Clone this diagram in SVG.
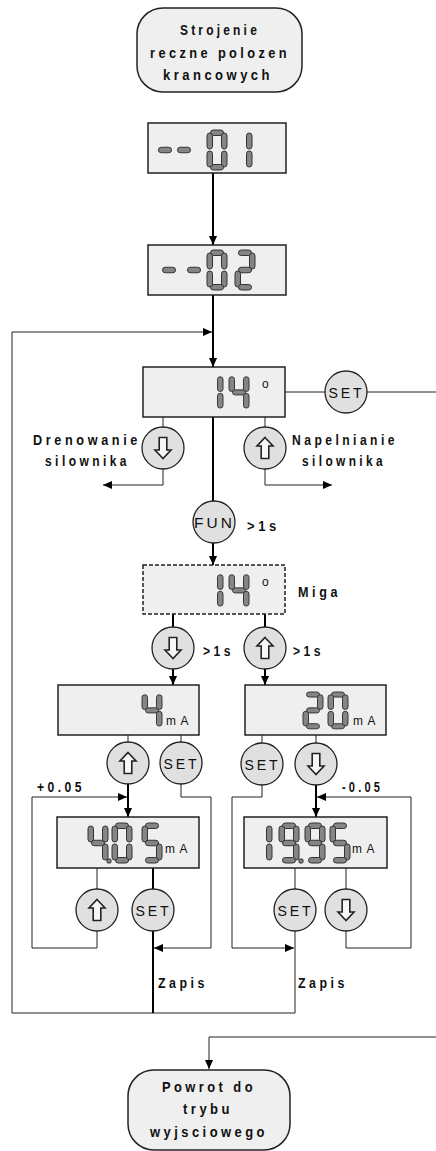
<svg xmlns="http://www.w3.org/2000/svg" xmlns:xlink="http://www.w3.org/1999/xlink" width="436" height="1151" viewBox="0 0 436 1151">
<style>
.box{fill:#efefef;stroke:#222;stroke-width:1.5}
.dash{stroke-dasharray:4 2}
.btn{fill:#e0e0e0;stroke:#222;stroke-width:1.3}
.arr{fill:#f6f6f6;stroke:#222;stroke-width:1.6}
.seg{fill:#858585;stroke:#333;stroke-width:1}
.thick{fill:none;stroke:#000;stroke-width:2}
.thin{fill:none;stroke:#222;stroke-width:1}
.lbl{font-family:"Liberation Sans",Arial,sans-serif;font-weight:bold;font-size:14px;letter-spacing:4px;fill:#111}
.ttl{font-family:"Liberation Sans",Arial,sans-serif;font-weight:bold;font-size:15px;letter-spacing:4px;fill:#111}
.bt{font-family:"Liberation Sans",Arial,sans-serif;font-size:15px;letter-spacing:3px;fill:#111}
.unit{font-family:"Liberation Sans",Arial,sans-serif;font-size:13px;letter-spacing:5px;fill:#111}
.deg{font-family:"Liberation Sans",Arial,sans-serif;font-size:12px;fill:#111}
</style>
<defs>
<marker id="ah" viewBox="0 0 10 10" refX="10" refY="5" markerWidth="9" markerHeight="9" markerUnits="userSpaceOnUse" orient="auto"><path d="M0,0.5 L10,5 L0,9.5 Z" fill="#000"/></marker>
<rect id="sA" x="3.5" y="0" width="13" height="5.5" rx="2.75"/>
<rect id="sB" x="14.5" y="3" width="5.5" height="16" rx="2.75"/>
<rect id="sC" x="14.5" y="21" width="5.5" height="16" rx="2.75"/>
<rect id="sD" x="3.5" y="34.5" width="13" height="5.5" rx="2.75"/>
<rect id="sE" x="0" y="21" width="5.5" height="16" rx="2.75"/>
<rect id="sF" x="0" y="3" width="5.5" height="16" rx="2.75"/>
<rect id="sG" x="3.5" y="17.25" width="13" height="5.5" rx="2.75"/>
<g id="d0"><use href="#sA"/><use href="#sB"/><use href="#sC"/><use href="#sD"/><use href="#sE"/><use href="#sF"/></g>
<g id="d1"><use href="#sB"/><use href="#sC"/></g>
<g id="d2"><use href="#sA"/><use href="#sB"/><use href="#sG"/><use href="#sE"/><use href="#sD"/></g>
<g id="d4"><use href="#sF"/><use href="#sG"/><use href="#sB"/><use href="#sC"/></g>
<g id="d5"><use href="#sA"/><use href="#sF"/><use href="#sG"/><use href="#sC"/><use href="#sD"/></g>
<g id="d9"><use href="#sA"/><use href="#sB"/><use href="#sC"/><use href="#sD"/><use href="#sF"/><use href="#sG"/></g>
<g id="dm"><use href="#sG"/></g>
<path id="up" d="M0,-10.5 L8,-2 L3.8,-2 L3.8,10.5 L-3.8,10.5 L-3.8,-2 L-8,-2 Z"/>
<g id="bup"><circle class="btn" r="21"/><use href="#up" class="arr"/></g>
<g id="bdn"><circle class="btn" r="21"/><use href="#up" class="arr" transform="rotate(180)"/></g>
<g id="bset"><circle class="btn" r="21"/><text class="bt" x="-17.5" y="5.5" textLength="36" lengthAdjust="spacingAndGlyphs">SET</text></g>
</defs>

<g id="connectors">
<path class="thick" d="M213,173 V245" marker-end="url(#ah)"/>
<path class="thick" d="M213,295 V367" marker-end="url(#ah)"/>
<path class="thin" d="M295,931 V1013 H12 V332 H212" marker-end="url(#ah)"/>
<path class="thin" d="M285,392 H325 M367,392 H436"/>
<path class="thin" d="M163,417 V427"/>
<path class="thin" d="M163,469 V485 H103" marker-end="url(#ah)"/>
<path class="thin" d="M265,417 V427"/>
<path class="thin" d="M265,469 V485 H332" marker-end="url(#ah)"/>
<path class="thick" d="M213,417 V501"/>
<path class="thick" d="M213,543 V565" marker-end="url(#ah)"/>
<path class="thick" d="M173,614 V627 M265,614 V627"/>
<path class="thick" d="M173,669 V685" marker-end="url(#ah)"/>
<path class="thick" d="M265,669 V685" marker-end="url(#ah)"/>
<path class="thin" d="M128,735 V742 M181,735 V742"/>
<path class="thick" d="M128,784 V817" marker-end="url(#ah)"/>
<path class="thin" d="M97,931 V948 H32 V797 H127" marker-end="url(#ah)"/>
<path class="thin" d="M181,784 V797 H211 V948 H154" marker-end="url(#ah)"/>
<path class="thin" d="M97,868 V889"/>
<path class="thick" d="M153,868 V889 M153,931 V1013"/>
<path class="thin" d="M262,735 V743 M316,735 V743"/>
<path class="thick" d="M316,785 V817" marker-end="url(#ah)"/>
<path class="thin" d="M346,931 V948 H411 V797 H317" marker-end="url(#ah)"/>
<path class="thin" d="M262,785 V797 H232 V948 H294" marker-end="url(#ah)"/>
<path class="thin" d="M295,868 V889 M346,868 V889"/>
<path class="thin" d="M436,1037 H209 V1069" marker-end="url(#ah)"/>
</g>

<g id="start">
<rect class="box" x="137" y="8" width="165" height="84" rx="26"/>
<text class="ttl" x="180" y="35" textLength="80" lengthAdjust="spacingAndGlyphs">Strojenie</text>
<text class="ttl" x="150" y="58" textLength="140" lengthAdjust="spacingAndGlyphs">reczne polozen</text>
<text class="ttl" x="163" y="80" textLength="110" lengthAdjust="spacingAndGlyphs">krancowych</text>
</g>

<g id="disp01">
<rect class="box" x="148" y="123" width="138" height="50"/>
<g class="seg">
<use href="#dm" x="155" y="130"/><use href="#dm" x="174" y="130"/><use href="#d0" x="207" y="130"/><use href="#d1" x="232" y="130"/>
</g>
</g>

<g id="disp02">
<rect class="box" x="148" y="245" width="138" height="50"/>
<g class="seg">
<use href="#dm" x="159" y="250"/><use href="#dm" x="184" y="250"/><use href="#d0" x="207" y="250"/><use href="#d2" x="235" y="250"/>
</g>
</g>

<g id="disp14">
<rect class="box" x="143" y="367" width="142" height="50"/>
<g class="seg">
<use href="#d1" transform="translate(203,374) scale(1,0.92)"/><use href="#d4" transform="translate(229,374) scale(1,0.92)"/>
</g>
<text class="deg" x="262" y="388">o</text>
</g>

<g id="set14"><use href="#bset" x="346" y="392"/></g>

<g id="drain">
<use href="#bdn" x="163" y="448"/>
<text class="lbl" x="33" y="445" textLength="108" lengthAdjust="spacingAndGlyphs">Drenowanie</text>
<text class="lbl" x="45" y="466" textLength="85" lengthAdjust="spacingAndGlyphs">silownika</text>
</g>

<g id="fill">
<use href="#bup" x="265" y="448"/>
<text class="lbl" x="292" y="445" textLength="106" lengthAdjust="spacingAndGlyphs">Napelnianie</text>
<text class="lbl" x="302" y="466" textLength="84" lengthAdjust="spacingAndGlyphs">silownika</text>
</g>

<g id="fun">
<circle class="btn" cx="214" cy="522" r="21"/>
<text class="bt" x="194" y="527.5" textLength="41" lengthAdjust="spacingAndGlyphs">FUN</text>
<text class="lbl" x="247" y="531" textLength="33" lengthAdjust="spacingAndGlyphs">&gt;1s</text>
</g>

<g id="miga">
<rect class="box dash" x="143" y="565" width="142" height="49"/>
<g class="seg">
<use href="#d1" transform="translate(203,572) scale(1,0.92)"/><use href="#d4" transform="translate(229,572) scale(1,0.92)"/>
</g>
<text class="deg" x="262" y="586">o</text>
<text class="lbl" x="298" y="597" textLength="43" lengthAdjust="spacingAndGlyphs">Miga</text>
</g>

<g id="down1s">
<use href="#bdn" x="173" y="648"/>
<text class="lbl" x="203" y="656" textLength="31" lengthAdjust="spacingAndGlyphs">&gt;1s</text>
</g>

<g id="up1s">
<use href="#bup" x="265" y="648"/>
<text class="lbl" x="293" y="656" textLength="31" lengthAdjust="spacingAndGlyphs">&gt;1s</text>
</g>

<g id="disp4mA">
<rect class="box" x="58" y="685" width="141" height="50"/>
<g class="seg"><use href="#d4" transform="translate(142,692) scale(1,0.92)"/></g>
<text class="unit" x="166" y="725" textLength="27" lengthAdjust="spacingAndGlyphs">mA</text>
</g>

<g id="disp20mA">
<rect class="box" x="245" y="685" width="141" height="50"/>
<g class="seg"><use href="#d2" transform="translate(303,692) scale(1,0.92)"/><use href="#d0" transform="translate(328,692) scale(1,0.92)"/></g>
<text class="unit" x="353" y="725" textLength="27" lengthAdjust="spacingAndGlyphs">mA</text>
</g>

<g id="up4mA"><use href="#bup" x="128" y="763"/></g>
<g id="set4mA"><use href="#bset" x="181" y="763"/></g>
<g id="set20mA"><use href="#bset" x="262" y="764"/></g>
<g id="dn20mA"><use href="#bdn" x="316" y="764"/></g>

<g id="plus"><text class="lbl" x="37" y="792" textLength="48" lengthAdjust="spacingAndGlyphs">+0.05</text></g>
<g id="minus"><text class="lbl" x="342" y="792" textLength="41" lengthAdjust="spacingAndGlyphs">-0.05</text></g>

<g id="disp405">
<rect class="box" x="57" y="817" width="142" height="51"/>
<g class="seg">
<use href="#d4" x="88" y="823"/><rect x="107" y="859" width="4" height="4" rx="1"/><use href="#d0" x="112" y="823"/><use href="#d5" x="142" y="823"/>
</g>
<text class="unit" x="165" y="853" textLength="27" lengthAdjust="spacingAndGlyphs">mA</text>
</g>

<g id="disp1995">
<rect class="box" x="244" y="817" width="143" height="51"/>
<g class="seg">
<use href="#d1" x="252" y="823"/><use href="#d9" x="279" y="823"/><rect x="299" y="859" width="4" height="4" rx="1"/><use href="#d9" x="305" y="823"/><use href="#d5" x="330" y="823"/>
</g>
<text class="unit" x="352" y="853" textLength="27" lengthAdjust="spacingAndGlyphs">mA</text>
</g>

<g id="up405"><use href="#bup" x="97" y="910"/></g>
<g id="set405"><use href="#bset" x="153" y="910"/></g>
<g id="set1995"><use href="#bset" x="295" y="910"/></g>
<g id="dn1995"><use href="#bdn" x="346" y="910"/></g>

<g id="zapis1"><text class="lbl" x="158" y="988" textLength="50" lengthAdjust="spacingAndGlyphs">Zapis</text></g>
<g id="zapis2"><text class="lbl" x="298" y="988" textLength="50" lengthAdjust="spacingAndGlyphs">Zapis</text></g>

<g id="end">
<rect class="box" x="128" y="1070" width="162" height="80" rx="26"/>
<text class="ttl" x="162" y="1092" textLength="94" lengthAdjust="spacingAndGlyphs">Powrot do</text>
<text class="ttl" x="183" y="1114" textLength="50" lengthAdjust="spacingAndGlyphs">trybu</text>
<text class="ttl" x="150" y="1137" textLength="118" lengthAdjust="spacingAndGlyphs">wyjsciowego</text>
</g>
</svg>
